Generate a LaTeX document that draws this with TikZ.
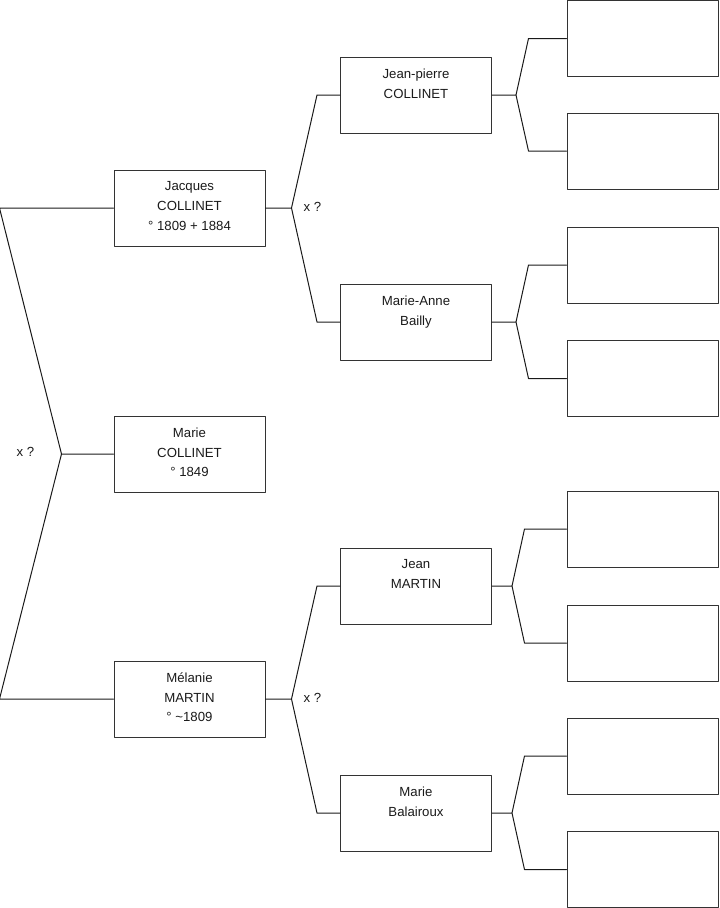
\documentclass[tikz,border=0pt]{standalone}
\usepackage{fontspec}
\setmainfont{Liberation Sans}
\usetikzlibrary{calc}
\definecolor{ink}{HTML}{1A1A1A}
\definecolor{frame}{HTML}{333333}
\tikzset{
  personbox/.style={draw=frame, line width=0.75pt, minimum width=113.25pt,
    minimum height=57pt, inner sep=0pt},
  persontext/.style={font=\fontsize{9.9}{14.8}\selectfont, text=ink, align=center,
    inner sep=0pt, anchor=north},
  link/.style={draw=ink, line width=0.75pt},
  unionlabel/.style={font=\fontsize{9.9}{11}\selectfont, text=ink, inner sep=0pt},
}
\newcommand{\person}[4]{%
  \node[personbox] (#1) at (#2,#3) {};
  \node[persontext] (#1-name) at ($(#1.north)+(0,12)$) {#4};
}
\newcommand{\fork}[5]{% child, father, mother, stub, end
  \coordinate (#1-j) at ($(#1.east)+(#4,0)$);
  \draw[link] (#1.east) -- (#1-j) -- ($(#2.west)+(-#5,0)$) -- (#2.west);
  \draw[link] (#1-j) -- ($(#3.west)+(-#5,0)$) -- (#3.west);
}

\begin{document}
\begin{tikzpicture}[x=0.75pt, y=-0.75pt, line cap=round, line join=round]
\path[use as bounding box] (0,0) rectangle (719,908);

\person{marie}{189.5}{454}{Marie\\COLLINET\\° 1849}
\person{jacques}{189.5}{208}{Jacques\\COLLINET\\° 1809 + 1884}
\person{melanie}{189.5}{699}{Mélanie\\MARTIN\\° \textasciitilde1809}

\person{jeanpierre}{416}{95}{Jean-pierre\\COLLINET}
\person{marieanne}{416}{322}{Marie-Anne\\Bailly}
\person{jean}{416}{586}{Jean\\MARTIN}
\person{balairoux}{416}{813}{Marie\\Balairoux}

\foreach \y [count=\i] in {38.5,151,265,378.5,529,643,756,869.5}{
  \node[personbox] (anc-\i) at (642.5,\y) {};
}

\coordinate (marie-j) at ($(marie.west)+(-52,0)$);
\draw[link] (marie.west) -- (marie-j) -- ($(jacques.west)+(-114,0)$) -- (jacques.west);
\draw[link] (marie-j) -- ($(melanie.west)+(-114,0)$) -- (melanie.west);

\fork{jacques}{jeanpierre}{marieanne}{26}{23}
\fork{melanie}{jean}{balairoux}{26}{23}
\fork{jeanpierre}{anc-1}{anc-2}{24}{38}
\fork{marieanne}{anc-3}{anc-4}{24}{38}
\fork{jean}{anc-5}{anc-6}{20}{42}
\fork{balairoux}{anc-7}{anc-8}{20}{42}

\node[unionlabel] (x-marie) at ($(marie-j)+(-36,-2)$) {x ?};
\node[unionlabel] (x-jacques) at ($(jacques-j)+(21,-1.5)$) {x ?};
\node[unionlabel] (x-melanie) at ($(melanie-j)+(21,-1.5)$) {x ?};
\end{tikzpicture}
\end{document}
